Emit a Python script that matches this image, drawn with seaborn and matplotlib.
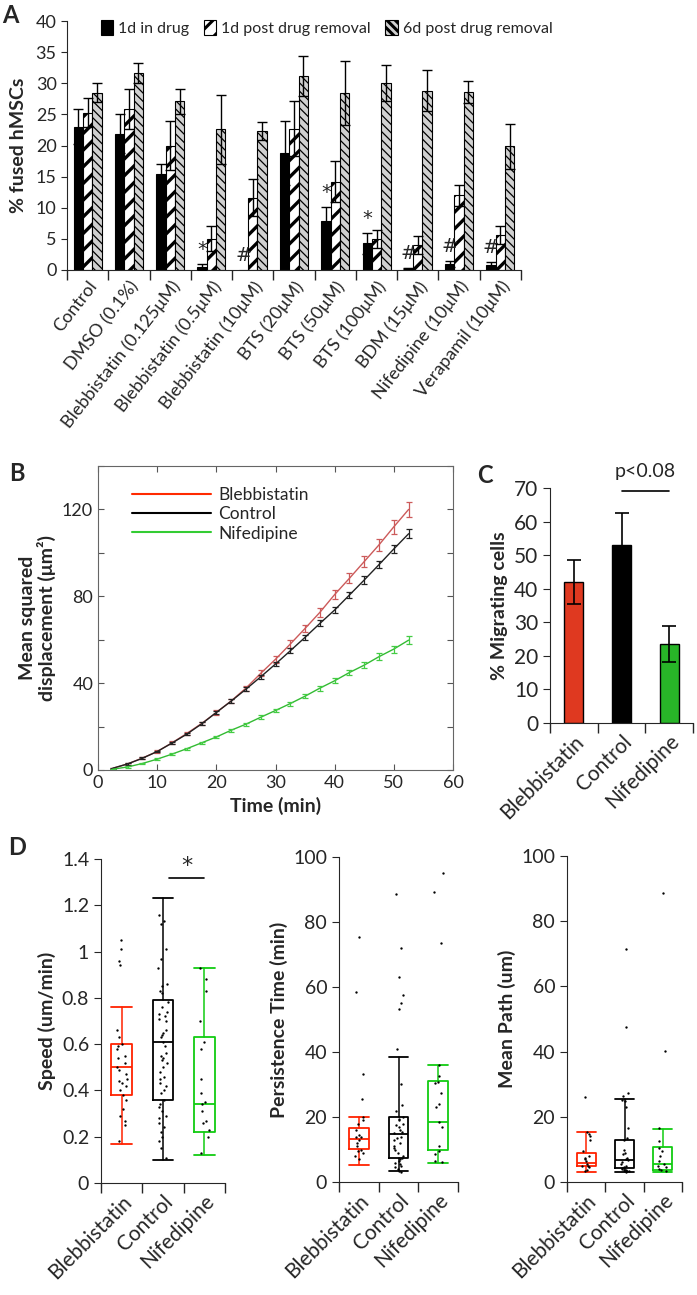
import numpy as np
import pandas as pd
import seaborn as sns
import matplotlib.pyplot as plt
from matplotlib.lines import Line2D

# ---- panel A: % fused hMSCs ----
groups = ["Control", "DMSO (0.1%)", "Blebbistatin (0.125μM)", "Blebbistatin (0.5μM)",
          "Blebbistatin (10μM)", "BTS (20μM)", "BTS (50μM)", "BTS (100μM)",
          "BDM (15μM)", "Nifedipine (10μM)", "Verapamil (10μM)"]
conditions = ["1d in drug", "1d post drug removal", "6d post drug removal"]
in_drug = [23.0, 21.9, 15.4, 0.5, 0.0, 18.8, 7.8, 4.3, 0.3, 1.0, 0.8]
in_drug_err = [2.8, 3.1, 1.7, 0.5, 0.0, 5.1, 2.4, 1.7, 0.1, 0.5, 0.5]
post1 = [25.3, 25.8, 20.0, 5.0, 11.6, 22.7, 14.2, 5.0, 4.0, 12.0, 5.6]
post1_err = [2.3, 3.2, 4.0, 2.0, 3.0, 4.4, 3.3, 1.5, 1.4, 1.7, 1.5]
post6 = [28.5, 31.6, 27.1, 22.6, 22.3, 31.1, 28.4, 30.0, 28.8, 28.6, 19.9]
post6_err = [1.5, 1.6, 2.0, 5.5, 1.4, 3.2, 5.1, 2.9, 3.3, 1.7, 3.6]
marks_a = ["", "", "", "*", "#", "", "*", "*", "#", "#", "#"]

# ---- panel B: mean squared displacement ----
time_min = [2.5, 5, 7.5, 10, 12.5, 15, 17.5, 20, 22.5, 25, 27.5, 30, 32.5, 35,
            37.5, 40, 42.5, 45, 47.5, 50, 52.5]
bleb_msd = [0.8, 2.8, 5.5, 8.5, 12.5, 16.8, 21.4, 26.5, 31.8, 37.7, 44.5, 51.0,
            58.0, 65.2, 72.6, 80.8, 88.3, 96.0, 103.7, 112.0, 120.0]
bleb_err = [0.3, 0.4, 0.5, 0.6, 0.7, 0.8, 0.9, 1.0, 1.1, 1.2, 1.4, 1.5, 1.7,
            1.8, 2.0, 2.2, 2.4, 2.6, 2.9, 3.1, 3.4]
ctrl_msd = [0.8, 2.8, 5.4, 8.5, 12.4, 16.5, 21.2, 26.5, 31.7, 37.2, 42.9, 48.8,
            54.9, 61.1, 67.5, 73.7, 80.6, 87.5, 94.6, 101.8, 108.8]
ctrl_err = [0.2, 0.3, 0.4, 0.4, 0.5, 0.6, 0.7, 0.7, 0.8, 0.9, 1.0, 1.1, 1.2,
            1.3, 1.4, 1.5, 1.6, 1.7, 1.8, 1.9, 2.0]
nif_msd = [0.4, 1.4, 3.0, 5.0, 7.3, 9.8, 12.5, 15.2, 18.3, 21.1, 24.3, 27.4,
           30.6, 34.0, 37.7, 41.1, 44.9, 48.3, 52.2, 55.7, 59.8]
nif_err = [0.2, 0.3, 0.3, 0.4, 0.5, 0.5, 0.6, 0.6, 0.7, 0.7, 0.8, 0.9, 0.9,
           1.0, 1.1, 1.2, 1.3, 1.4, 1.5, 1.6, 1.7]

# ---- panel C: % migrating cells ----
drugs = ["Blebbistatin", "Control", "Nifedipine"]
mig_pct = [42.0, 53.0, 23.5]
mig_err = [6.7, 9.7, 5.3]

# ---- panel D: per-cell values and box summaries (q1, median, q3, whisker lo, whisker hi) ----
speed_bleb = [1.05, 1.01, 0.96, 0.94, 0.66, 0.63, 0.60, 0.59, 0.58, 0.55, 0.54, 0.52, 0.50,
              0.49, 0.47, 0.45, 0.44, 0.43, 0.42, 0.40, 0.38, 0.36, 0.32, 0.29, 0.27, 0.25, 0.18]
speed_ctrl = [1.16, 1.13, 1.12, 1.01, 0.97, 0.93, 0.86, 0.85, 0.83, 0.82, 0.78, 0.76, 0.74,
              0.73, 0.72, 0.71, 0.70, 0.66, 0.65, 0.64, 0.63, 0.61, 0.59, 0.56, 0.55, 0.54,
              0.53, 0.52, 0.50, 0.48, 0.46, 0.45, 0.43, 0.42, 0.40, 0.39, 0.36, 0.34, 0.33,
              0.31, 0.29, 0.28, 0.26, 0.24, 0.22, 0.20, 0.18, 0.15, 0.11]
speed_nif = [0.93, 0.88, 0.83, 0.70, 0.61, 0.58, 0.45, 0.39, 0.35, 0.34, 0.31, 0.27, 0.26,
             0.23, 0.20, 0.13]
speed_box = [(0.38, 0.50, 0.60, 0.17, 0.76), (0.36, 0.61, 0.79, 0.10, 1.23),
             (0.22, 0.34, 0.63, 0.12, 0.93)]

persist_bleb = [75.5, 58.5, 33.3, 25.6, 20.0, 19.0, 18.0, 16.0, 14.5, 14.0, 14.0, 13.0,
                12.0, 11.0, 10.0, 9.5, 9.0, 8.0, 7.0]
persist_ctrl = [88.7, 72.0, 63.0, 57.4, 55.0, 53.3, 40.9, 30.3, 23.8, 22.0, 20.0, 19.5,
                19.0, 18.0, 17.5, 17.0, 16.0, 15.5, 15.0, 14.0, 13.5, 13.0, 12.0, 11.0,
                10.5, 10.0, 9.0, 8.0, 7.5, 7.0, 6.5, 6.0, 5.5, 5.0, 4.5, 4.0, 3.5, 3.2]
persist_nif = [95.0, 89.2, 73.6, 36.0, 32.5, 30.8, 30.5, 27.5, 24.0, 23.0, 18.5, 17.0,
               11.0, 9.5, 8.5, 6.5, 6.2]
persist_box = [(10.2, 13.2, 16.7, 5.3, 20.0), (7.3, 14.8, 20.0, 3.3, 38.5),
               (9.8, 18.6, 31.0, 5.7, 36.0)]

path_bleb = [26.0, 15.3, 14.8, 14.0, 12.8, 9.5, 8.0, 7.5, 7.0, 6.5, 5.5, 5.0, 4.8, 4.5,
             3.8, 3.5]
path_ctrl = [71.6, 47.4, 27.4, 26.4, 25.3, 24.8, 23.0, 16.5, 13.6, 13.0, 9.7, 9.0, 8.5,
             7.5, 7.0, 6.6, 6.0, 5.5, 5.0, 4.5, 4.2, 4.0, 3.8, 3.6, 3.5, 3.3, 3.2]
path_nif = [88.7, 40.3, 16.5, 12.7, 10.5, 9.5, 8.0, 6.5, 5.5, 5.0, 4.5, 4.0, 3.8, 3.5]
path_box = [(5.0, 5.9, 8.9, 3.2, 15.3), (4.2, 6.8, 12.9, 3.0, 25.5),
            (3.8, 5.6, 10.7, 3.0, 16.4)]

drug_colors = ["#ff2200", "black", "#11cc11"]

sns.set_style("ticks")
plt.rcParams['font.family'] = ['Lato', 'DejaVu Sans']
plt.rcParams['hatch.linewidth'] = 2.2

W, H = 697, 1295
fig = plt.figure(figsize=(W / 100, H / 100), dpi=100)


def rect(l, t, r, b):
    return [l / W, 1 - b / H, (r - l) / W, (b - t) / H]


def sep_ticks(ax, n, size, rot=45):
    ax.set_xlim(-0.5, n - 0.5)
    ax.set_xticks(np.arange(-0.5, n, 1), minor=True)
    ax.tick_params(axis='x', which='major', length=0, pad=6)
    ax.tick_params(axis='x', which='minor', length=7, width=1, direction='out')
    plt.setp(ax.get_xticklabels(), rotation=rot, ha='right', rotation_mode='anchor',
             fontsize=size)


# ---------------- A ----------------
axA = fig.add_axes(rect(67, 21, 521, 270))
df_a = pd.DataFrame({"group": groups * 3,
                     "cond": np.repeat(conditions, len(groups)),
                     "value": in_drug + post1 + post6})
sns.barplot(data=df_a, x="group", y="value", hue="cond", order=groups,
            hue_order=conditions, palette=["black", "white", "#d0d0d0"],
            errorbar=None, width=0.68, edgecolor="black", linewidth=0.8,
            legend=False, ax=axA)
hatches = [None, "//", "\\\\\\\\"]
hatch_w = [1.0, 2.4, 0.9]
for cont, hatch, hw, vals, errs in zip(axA.containers, hatches, hatch_w,
                                       [in_drug, post1, post6],
                                       [in_drug_err, post1_err, post6_err]):
    xs = []
    for p in cont:
        if hatch:
            p.set_hatch(hatch)
        if hasattr(p, "set_hatch_linewidth"):
            p.set_hatch_linewidth(hw)
        xs.append(p.get_x() + p.get_width() / 2)
    xs = np.array(xs)
    v = np.array(vals)
    e = np.array(errs)
    m = e > 0
    axA.errorbar(xs[m], v[m], yerr=e[m], fmt='none', ecolor='black',
                 elinewidth=1, capsize=3.5, capthick=1, zorder=4)
    if hatch is None:
        for x, val, err, mk in zip(xs, vals, errs, marks_a):
            if mk:
                axA.text(x, val + err + 2.3, mk, ha='center', va='center',
                         fontsize=14, family='DejaVu Sans')
axA.set_ylim(0, 40)
axA.set_yticks(range(0, 41, 5))
axA.tick_params(axis='y', labelsize=13, length=4, direction='out')
axA.set_xlabel("")
axA.set_ylabel("% fused hMSCs", fontsize=14, fontweight='bold', labelpad=6)
sep_ticks(axA, len(groups), 13, rot=52)
sns.despine(ax=axA)
axA.legend(handles=[c[0] for c in axA.containers], labels=conditions, ncol=3,
           loc='upper left', bbox_to_anchor=(0.06, 1.03), frameon=False,
           fontsize=11.5, handlelength=0.8, handleheight=1.1, handletextpad=0.3,
           columnspacing=0.9, borderaxespad=0)

# ---------------- B ----------------
axB = fig.add_axes(rect(98, 466, 453, 770))
for y, err, lc, ec in [(bleb_msd, bleb_err, "#cc5a5a", "#cc5a5a"),
                       (ctrl_msd, ctrl_err, "#222222", "#222222"),
                       (nif_msd, nif_err, "#33bb33", "#44cc44")]:
    sns.lineplot(x=time_min, y=y, color=lc, lw=1, ax=axB)
    axB.errorbar(time_min, y, yerr=err, fmt='none', ecolor=ec, elinewidth=0.9,
                 capsize=2.5, capthick=0.9)
axB.set_xlim(0, 60)
axB.set_ylim(0, 140)
axB.set_xticks(range(0, 61, 10))
axB.set_yticks(range(0, 141, 20))
axB.set_yticklabels([str(v) if v % 40 == 0 else "" for v in range(0, 141, 20)])
axB.tick_params(direction='in', top=True, right=True, labelsize=13, length=4,
                color='#555555')
for s in axB.spines.values():
    s.set_color('#666666')
axB.set_xlabel("Time (min)", fontsize=14, fontweight='bold')
axB.set_ylabel("Mean squared\ndisplacement (μm²)", fontsize=14,
               fontweight='bold', linespacing=1.1)
axB.legend(handles=[Line2D([], [], color="#ff2a00", lw=1.5),
                    Line2D([], [], color="black", lw=1.5),
                    Line2D([], [], color="#33cc33", lw=1.5)],
           labels=drugs, loc='upper left', bbox_to_anchor=(0.075, 0.955),
           frameon=False, fontsize=12.5, handlelength=4.6, handletextpad=0.4,
           labelspacing=0.2, borderaxespad=0)

# ---------------- C ----------------
axC = fig.add_axes(rect(550, 488, 693, 723))
sns.barplot(x=drugs, y=mig_pct, hue=drugs, palette=drug_colors, width=0.4,
            edgecolor='black', linewidth=1, legend=False, ax=axC)
axC.errorbar(range(3), mig_pct, yerr=mig_err, fmt='none', ecolor='black',
             elinewidth=1.2, capsize=5, capthick=1.2, zorder=4)
axC.set_ylim(0, 70)
axC.set_yticks(range(0, 71, 10))
axC.tick_params(axis='y', labelsize=15, length=5, direction='out')
sep_ticks(axC, 3, 15)
axC.set_ylabel("% Migrating cells", fontsize=14, fontweight='bold', labelpad=4)
sns.despine(ax=axC)
axC.plot([1.0, 2.0], [69.0, 69.0], color='black', lw=1.2, clip_on=False)
axC.text(1.5, 72.5, "p<0.08", ha='center', va='bottom', fontsize=14)

# ---------------- D ----------------
d_panels = [
    (rect(101, 859, 225, 1183), [speed_bleb, speed_ctrl, speed_nif], speed_box,
     "Speed (um/min)", 1.4, 0.2),
    (rect(339, 857, 458, 1182), [persist_bleb, persist_ctrl, persist_nif],
     persist_box, "Persistence Time (min)", 100, 20),
    (rect(567, 856, 682, 1182), [path_bleb, path_ctrl, path_nif], path_box,
     "Mean Path (um)", 100, 20),
]
axesD = []
for pos, pts, box, label, top, step in d_panels:
    ax = fig.add_axes(pos)
    df = pd.DataFrame({"drug": np.repeat(drugs, [len(p) for p in pts]),
                       "value": np.concatenate(pts)})
    sns.stripplot(data=df, x="drug", y="value", order=drugs, color='black',
                  size=1.7, jitter=0.12, ax=ax, zorder=3)
    stats = [dict(q1=b[0], med=b[1], q3=b[2], whislo=b[3], whishi=b[4],
                  fliers=[]) for b in box]
    art = ax.bxp(stats, positions=[0, 1, 2], widths=0.5, capwidths=0.5,
                 showfliers=False, manage_ticks=False, patch_artist=False)
    for i, c in enumerate(drug_colors):
        art['boxes'][i].set(color=c, lw=1.3)
        art['medians'][i].set(color=c, lw=1.3)
        for k in (2 * i, 2 * i + 1):
            art['whiskers'][k].set(color=c, lw=1.1)
            art['caps'][k].set(color=c, lw=1.3)
    ax.set_ylim(0, top)
    ticks = np.round(np.arange(0, top + step / 2, step), 2)
    ax.set_yticks(ticks)
    ax.set_yticklabels([f"{t:g}" for t in ticks])
    ax.tick_params(axis='y', labelsize=14, length=5, direction='out')
    ax.set_xlabel("")
    ax.set_ylabel(label, fontsize=14, fontweight='bold')
    sep_ticks(ax, 3, 15)
    sns.despine(ax=ax)
    axesD.append(ax)

axesD[0].plot([1.15, 2.0], [1.32, 1.32], color='black', lw=1.2)
axesD[0].text(1.57, 1.37, "*", ha='center', va='center', fontsize=16,
              family='DejaVu Sans')

# panel letters
for s, x, y in [("A", 2, 4), ("B", 9, 462), ("C", 477, 464), ("D", 8, 836)]:
    fig.text(x / W, 1 - y / H, s, fontsize=17, fontweight='bold', va='top')

fig.savefig("out.png", dpi=100)
